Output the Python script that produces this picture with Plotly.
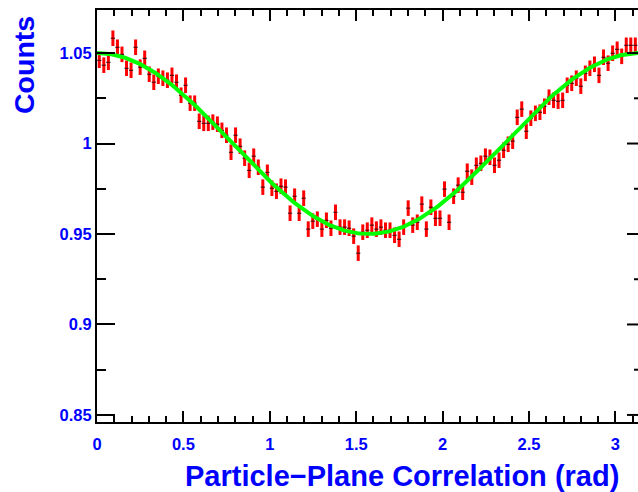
import numpy as np
import plotly.graph_objects as go

# ---- data ----
counts = [1.0460, 1.0433, 1.0449, 1.0582, 1.0532, 1.0493, 1.0416, 1.0405, 1.0532, 1.0422,
          1.0471, 1.0383, 1.0339, 1.0372, 1.0361, 1.0350, 1.0377, 1.0339, 1.0267, 1.0322,
          1.0223, 1.0223, 1.0123, 1.0112, 1.0112, 1.0118, 1.0107, 1.0073, 1.0046, 0.9952,
          1.0046, 0.9985, 0.9919, 0.9852, 0.9930, 0.9869, 0.9759, 0.9841, 0.9753, 0.9736,
          0.9764, 0.9759, 0.9615, 0.9709, 0.9615, 0.9698, 0.9527, 0.9571, 0.9582, 0.9527,
          0.9576, 0.9532, 0.9620, 0.9538, 0.9538, 0.9532, 0.9488, 0.9394, 0.9510, 0.9521,
          0.9549, 0.9527, 0.9538, 0.9521, 0.9521, 0.9493, 0.9471, 0.9538, 0.9643, 0.9549,
          0.9565, 0.9665, 0.9527, 0.9648, 0.9587, 0.9587, 0.9748, 0.9565, 0.9709, 0.9770,
          0.9731, 0.9847, 0.9814, 0.9880, 0.9891, 0.9930, 0.9924, 0.9880, 0.9908, 0.9963,
          0.9996, 1.0013, 1.0145, 1.0190, 1.0068, 1.0140, 1.0167, 1.0173, 1.0206, 1.0256,
          1.0239, 1.0234, 1.0239, 1.0322, 1.0333, 1.0361, 1.0317, 1.0388, 1.0416, 1.0438,
          1.0377, 1.0477, 1.0444, 1.0499, 1.0521, 1.0482, 1.0543, 1.0543, 1.0543]
count_err = 0.0043
bin_width = 0.02629
bin_centers = [(i + 0.5) * bin_width for i in range(len(counts))]

# fit: p0 + p1*cos(2x)
fit_p0 = 1.0
fit_p1 = 0.05
fit_x = np.linspace(0.0, np.pi, 400)
fit_y = fit_p0 + fit_p1 * np.cos(2 * fit_x)

x_range = [0.0, 3.1308]
y_range = [0.8461, 1.0738]
y_major = [0.85, 0.90, 0.95, 1.00, 1.05]
y_minor = [0.875, 0.925, 0.975, 1.025]

x_title = "Particle\u2212Plane Correlation (rad)"
y_title = "Counts"

FONT = "Liberation Sans, Arial, Helvetica, sans-serif"
BLUE = "#0000ff"

fig = go.Figure()
fig.add_trace(go.Scatter(
    x=bin_centers, y=counts, mode="markers",
    error_y=dict(type="constant", value=count_err, color="#ff0000", thickness=3, width=0),
    marker=dict(symbol="line-ew", size=3, color="#300000",
                line=dict(width=1, color="#300000")),
    hoverinfo="x+y",
))
fig.add_trace(go.Scatter(
    x=fit_x, y=fit_y, mode="lines",
    line=dict(color="#00ff00", width=4),
))

tickfont = dict(family=FONT, size=16.5, color=BLUE, weight="bold")

fig.update_layout(
    width=638, height=492,
    margin=dict(l=97, r=0, t=10, b=70, pad=0),
    paper_bgcolor="white", plot_bgcolor="white",
    showlegend=False,
    xaxis=dict(
        range=x_range, tickmode="linear", tick0=0, dtick=0.5,
        ticks="inside", ticklen=11, tickwidth=2, tickcolor="black",
        minor=dict(tickmode="linear", tick0=0, dtick=0.1, ticks="inside",
                   ticklen=6, tickwidth=2, tickcolor="black", showgrid=False),
        showline=True, linecolor="black", linewidth=2, mirror="allticks",
        showgrid=False, zeroline=False, tickfont=tickfont,
        ticklabelstandoff=6,
    ),
    yaxis=dict(
        range=y_range, tickmode="linear", tick0=0.85, dtick=0.05,
        ticks="inside", ticklen=18, tickwidth=2, tickcolor="black",
        minor=dict(tickmode="linear", tick0=0.85, dtick=0.025, ticks="inside",
                   ticklen=9, tickwidth=2, tickcolor="black", showgrid=False),
        showline=True, linecolor="black", linewidth=2, mirror=False,
        showgrid=False, zeroline=False, tickfont=tickfont,
        ticklabelstandoff=0,
    ),
)

shapes = []
for v in y_major:
    shapes.append(dict(type="line", xref="paper", yref="y", x0=0.9797, x1=1.0,
                       y0=v, y1=v, line=dict(color="black", width=2)))
for v in y_minor:
    shapes.append(dict(type="line", xref="paper", yref="y", x0=0.9926, x1=1.0,
                       y0=v, y1=v, line=dict(color="black", width=2)))
fig.update_layout(shapes=shapes)

fig.add_annotation(
    text=x_title, xref="paper", yref="paper", x=0.968, y=-0.131,
    xanchor="right", yanchor="middle", showarrow=False,
    font=dict(family=FONT, size=29, color=BLUE, weight="bold"),
)
fig.add_annotation(
    text=y_title, xref="paper", yref="paper", x=-0.1349, y=0.8665,
    xanchor="center", yanchor="middle", showarrow=False, textangle=-90,
    font=dict(family=FONT, size=28.5, color=BLUE, weight="bold"),
)

fig.write_html("out.html")
